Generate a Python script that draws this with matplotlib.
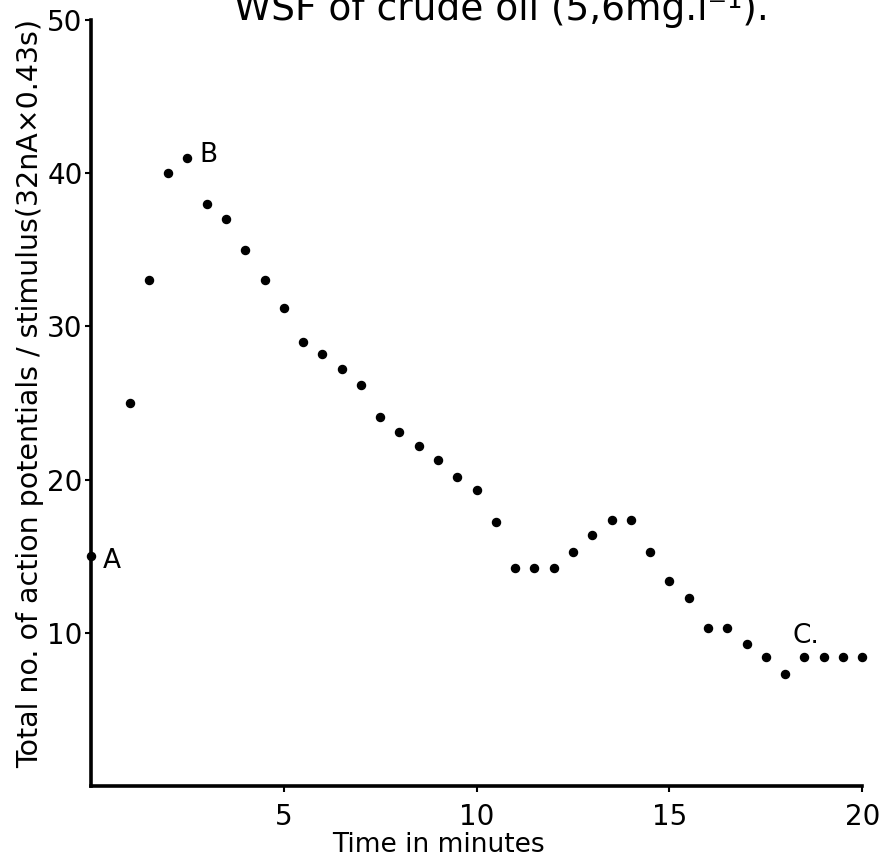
import matplotlib
matplotlib.use("Agg")
import matplotlib.pyplot as plt

# time (min) and total no. of action potentials per stimulus
time_min = [0, 1, 1.5, 2, 2.5, 3, 3.5, 4, 4.5, 5, 5.5, 6, 6.5, 7, 7.5, 8,
            8.5, 9, 9.5, 10, 10.5, 11, 11.5, 12, 12.5, 13, 13.5, 14, 14.5,
            15, 15.5, 16, 16.5, 17, 17.5, 18, 18.5, 19, 19.5, 20]
potentials = [15, 25, 33, 40, 41, 38, 37, 35, 33, 31.2, 29, 28.2, 27.2, 26.2,
              24.1, 23.1, 22.2, 21.3, 20.2, 19.3, 17.2, 14.2, 14.2, 14.2, 15.3,
              16.35, 17.35, 17.35, 15.3, 13.4, 12.3, 10.3, 10.3, 9.3, 8.4, 7.3,
              8.4, 8.4, 8.4, 8.4]

# point labels: text, x, y
point_labels = [("A", 0.55, 14.7), ("B", 3.05, 41.2), ("C.", 18.55, 9.8)]

x_ticks = [5, 10, 15, 20]
y_ticks = [10, 20, 30, 40, 50]

plt.rcParams["font.family"] = ["DejaVu Sans"]

fig = plt.figure(figsize=(8.85, 8.64), dpi=100)
ax = fig.add_axes([0.1028, 0.0903, 0.8715, 0.8866])

ax.plot(time_min, potentials, "o", color="black", markersize=5.8,
        clip_on=False, zorder=3)

for text, x, y in point_labels:
    ax.text(x, y, text, fontsize=19, ha="center", va="center")

ax.set_xlim(0, 20)
ax.set_ylim(0, 50)
ax.set_xticks(x_ticks)
ax.set_yticks(y_ticks)
ax.tick_params(axis="both", direction="out", length=4, width=1.5,
               labelsize=20, pad=2)
ax.tick_params(axis="x", pad=8)

for side in ("top", "right"):
    ax.spines[side].set_visible(False)
for side in ("left", "bottom"):
    ax.spines[side].set_linewidth(2.6)

# x axis title, placed like the original
fig.text(0.495, 0.022, "Time in minutes", fontsize=19,
         ha="center", va="center")

fig.text(0.034, 0.545,
         "Total no. of action potentials / stimulus(32nA\u00d70.43s)",
         rotation=90, fontsize=20.5, ha="center", va="center")

fig.text(0.566, 0.977, "WSF of crude oil (5,6mg.l\u207b\u00b9).",
         fontsize=27, ha="center", va="baseline")

fig.savefig("out.png", dpi=100, facecolor="white")
